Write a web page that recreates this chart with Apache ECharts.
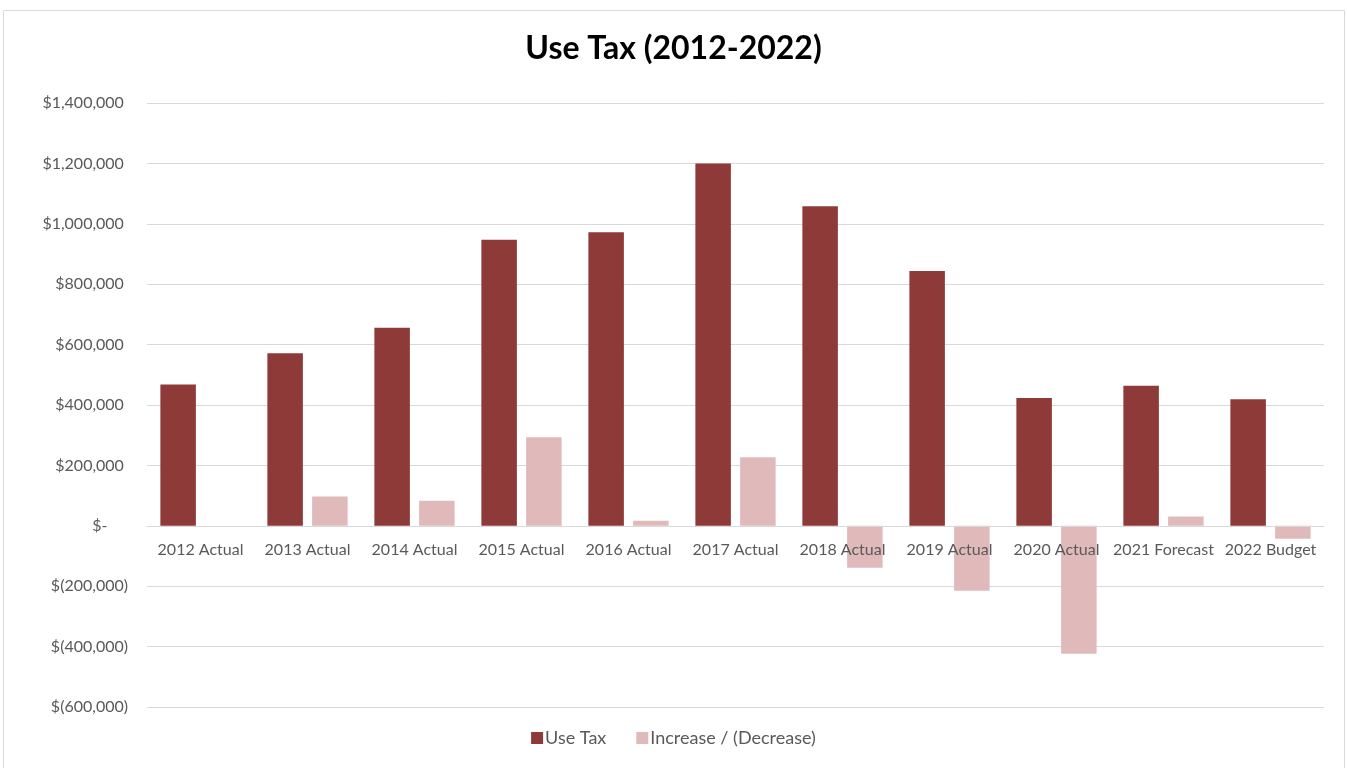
<!DOCTYPE html>
<html>
<head>
<meta charset="utf-8">
<script src="https://cdn.jsdelivr.net/npm/echarts@6/dist/echarts.min.js"></script>
<style>
html,body{margin:0;padding:0;background:#fff;}
#chart{width:1347px;height:768px;}
</style>
</head>
<body>
<div id="chart"></div>
<script>
const categories = ['2012 Actual','2013 Actual','2014 Actual','2015 Actual','2016 Actual','2017 Actual','2018 Actual','2019 Actual','2020 Actual','2021 Forecast','2022 Budget'];
const useTax = [468000, 571000, 656000, 947000, 972000, 1200000, 1058000, 844000, 423000, 464000, 419000];
const change = [null, 97000, 83000, 293000, 17000, 227000, -139000, -215000, -424000, 31000, -43000];
const seriesNames = ['Use Tax', 'Increase / (Decrease)'];
const yMin = -600000, yMax = 1400000, yStep = 200000;

function fmt(v) {
  if (v === 0) return '$-     ';
  const s = Math.abs(v).toLocaleString('en-US');
  return v < 0 ? '$(' + s + ')' : '$' + s + ' ';
}

const FONT = 'Lato, "Open Sans", sans-serif';
const GRID_TOP = 103, GRID_BOTTOM = 61, H = 768;
const plotH = H - GRID_TOP - GRID_BOTTOM;
const zeroOffset = -plotH * (0 - yMin) / (yMax - yMin);

const chart = echarts.init(document.getElementById('chart'));
chart.setOption({
  backgroundColor: '#fff',
  animation: false,
  title: {
    text: 'Use Tax (2012-2022)',
    left: 'center',
    top: 28,
    textStyle: { fontFamily: FONT, fontSize: 32, fontWeight: 'bold', color: '#000' }
  },
  graphic: [{
    type: 'rect',
    shape: { x: 3.5, y: 10.5, width: 1341, height: 770 },
    style: { fill: 'none', stroke: '#d9d9d9', lineWidth: 1 },
    silent: true
  }],
  legend: {
    bottom: 16,
    left: 'center',
    itemWidth: 12,
    itemHeight: 12,
    itemGap: 30,
    icon: 'rect',
    textStyle: { fontFamily: FONT, fontSize: 18, color: '#595959', padding: [0, 0, 0, -3] },
    data: seriesNames
  },
  grid: { left: 147, right: 23, top: GRID_TOP, bottom: GRID_BOTTOM, containLabel: false },
  xAxis: {
    type: 'category',
    data: categories,
    offset: zeroOffset,
    axisLine: { show: true, onZero: false, lineStyle: { color: '#d9d9d9', width: 1 } },
    axisTick: { show: false },
    axisLabel: { fontFamily: FONT, fontSize: 16, color: '#595959', margin: 16, interval: 0 },
    z: 5
  },
  yAxis: {
    type: 'value',
    min: yMin,
    max: yMax,
    interval: yStep,
    axisLine: { show: false },
    axisTick: { show: false },
    splitLine: { lineStyle: { color: '#d9d9d9', width: 1 } },
    axisLabel: { fontFamily: FONT, fontSize: 16, color: '#595959', margin: 19, formatter: fmt }
  },
  series: [
    {
      name: seriesNames[0],
      type: 'bar',
      data: useTax,
      itemStyle: { color: '#8E3A38' },
      barGap: '26%',
      barCategoryGap: '25%'
    },
    {
      name: seriesNames[1],
      type: 'bar',
      data: change,
      itemStyle: { color: '#E0BABA' },
      barGap: '26%',
      barCategoryGap: '25%'
    }
  ]
});
</script>
</body>
</html>
